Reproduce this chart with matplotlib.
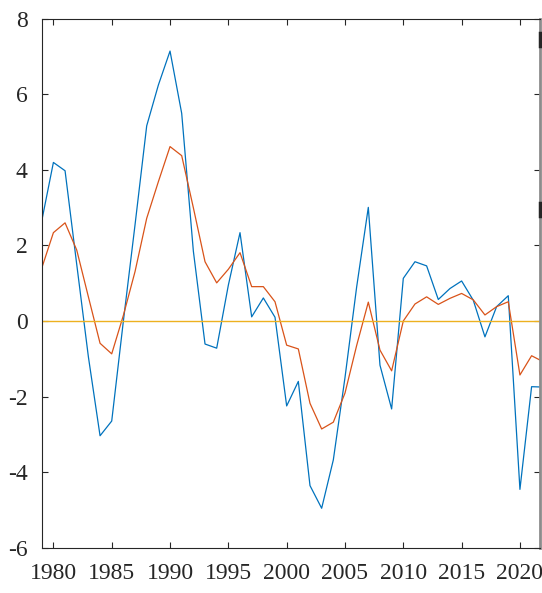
import numpy as np
import matplotlib
matplotlib.use('Agg')
import matplotlib.pyplot as plt
from matplotlib.lines import Line2D

years = np.arange(1979, 2023)

# blue series (raw)
series_a = [2.65, 4.2, 3.98, 1.5, -0.95, -3.04, -2.65, 0.0, 2.55, 5.17, 6.25, 7.15,
            5.5, 1.85, -0.61, -0.72, 0.95, 2.34, 0.11, 0.61, 0.1, -2.25,
            -1.6, -4.36, -4.96, -3.68, -1.5, 0.9, 3.01, -1.17, -2.33, 1.13,
            1.57, 1.46, 0.57, 0.86, 1.06, 0.55, -0.42, 0.38, 0.67, -4.46,
            -1.74, -1.75]

# orange series (smoothed)
series_b = [1.4, 2.34, 2.6, 1.88, 0.64, -0.59, -0.87, 0.15, 1.31, 2.72, 3.69, 4.62,
            4.38, 3.0, 1.57, 1.01, 1.37, 1.81, 0.91, 0.91, 0.51, -0.64,
            -0.74, -2.18, -2.86, -2.68, -1.91, -0.65, 0.5, -0.77, -1.32, 0.0,
            0.45, 0.64, 0.44, 0.6, 0.73, 0.56, 0.16, 0.38, 0.51, -1.43,
            -0.92, -1.08]

xticks = np.arange(1980, 2021, 5)
yticks = np.arange(-6, 9, 2)

plt.rcParams['font.family'] = ['Liberation Serif', 'DejaVu Serif']
plt.rcParams['axes.unicode_minus'] = False

fig = plt.figure(figsize=(5.42, 5.93), dpi=100)
ax = fig.add_axes([0.077, 0.0767, 0.9193, 0.8913])

ax.plot(years, series_a, color='#0072BD', lw=0.9)
ax.plot(years, series_b, color='#D95319', lw=0.9)
ax.axhline(0, color='#EDB120', lw=1.0)

ax.set_xlim(1979, 2021.72)
ax.set_ylim(-6, 8)
ax.set_xticks(xticks)
ax.set_yticks(yticks)
ax.tick_params(direction='in', length=4, width=0.8, colors='#262626',
               labelsize=17, top=True, right=True)
ax.tick_params(axis='x', pad=11)
ax.tick_params(axis='y', pad=10)
for s in ['left', 'top', 'bottom']:
    ax.spines[s].set_color('#262626')
    ax.spines[s].set_linewidth(0.8)
ax.spines['right'].set_color('#8c8c8c')
ax.spines['right'].set_linewidth(2)

# clipped marks from a neighbouring panel at the right edge
for yy in [0.933, 0.647]:
    fig.add_artist(Line2D([0.9955, 0.9955], [yy - 0.011, yy + 0.011],
                          color='#262626', lw=2.5))

fig.savefig('out.png', dpi=100)
